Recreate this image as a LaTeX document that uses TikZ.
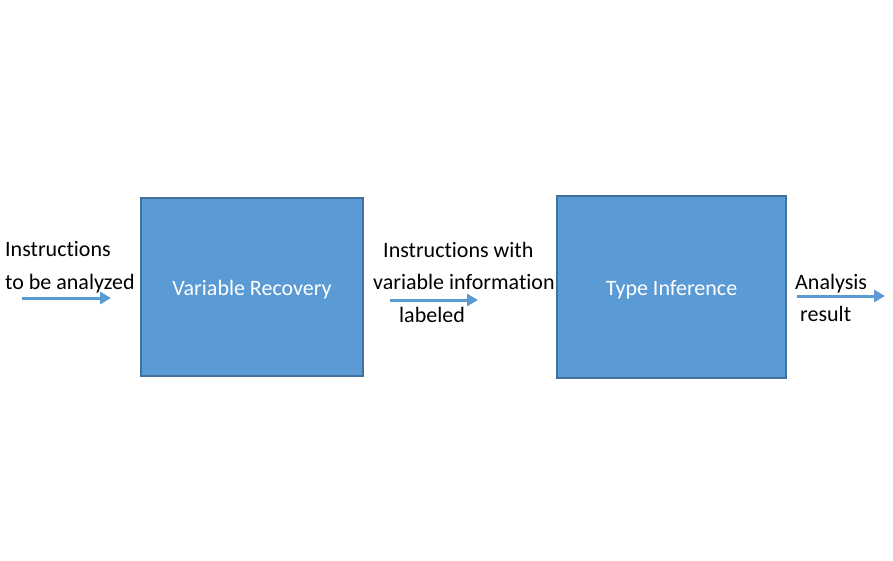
\documentclass[tikz,border=0pt]{standalone}
\usepackage{fontspec}
\setmainfont[Ligatures=NoCommon]{Carlito}
\usetikzlibrary{arrows.meta}
\definecolor{boxblue}{HTML}{5B9BD5}
\definecolor{boxedge}{HTML}{41719C}
\tikzset{
  stagebox/.style={draw=boxedge, line width=1.5pt, fill=boxblue, text=white, inner sep=0pt},
  flowarrow/.style={draw=boxblue, line width=3pt, -{Triangle[length=11pt,width=12pt]}},
  flowtext/.style={align=left, inner sep=0pt, font=\fontsize{22}{32.5}\selectfont}
}
\begin{document}
\begin{tikzpicture}[x=1pt, y=-1pt, font=\fontsize{22}{26}\selectfont]
  \useasboundingbox (0,0) rectangle (893,561);
  % the two stages
  \node[stagebox, minimum width=222pt, minimum height=178pt] (recovery) at (252,287) {\raisebox{-3pt}[\height][\depth]{Variable Recovery}};
  \node[stagebox, minimum width=229pt, minimum height=182pt] (inference) at (671.5,287) {\raisebox{-3pt}[\height][\depth]{Type Inference}};
  % labels between the stages
  \node[flowtext, anchor=west] (input) at (5,267) {Instructions\\to be analyzed};
  \node[flowtext, anchor=west] (middle) at (373,282) {\hspace*{10pt}Instructions with\\variable information\\\hspace*{26pt}labeled};
  \node[flowtext, anchor=west] (output) at (795,298) {Analysis\\\hspace*{5pt}result};
  % arrows
  \coordinate (a1) at (22,298);   \coordinate (b1) at (111,298);
  \coordinate (a2) at (390,300);  \coordinate (b2) at (478,300);
  \coordinate (a3) at (797,296);  \coordinate (b3) at (885,296);
  \foreach \i in {1,2,3}{
    \draw[flowarrow] (a\i) -- (b\i);}
\end{tikzpicture}
\end{document}
